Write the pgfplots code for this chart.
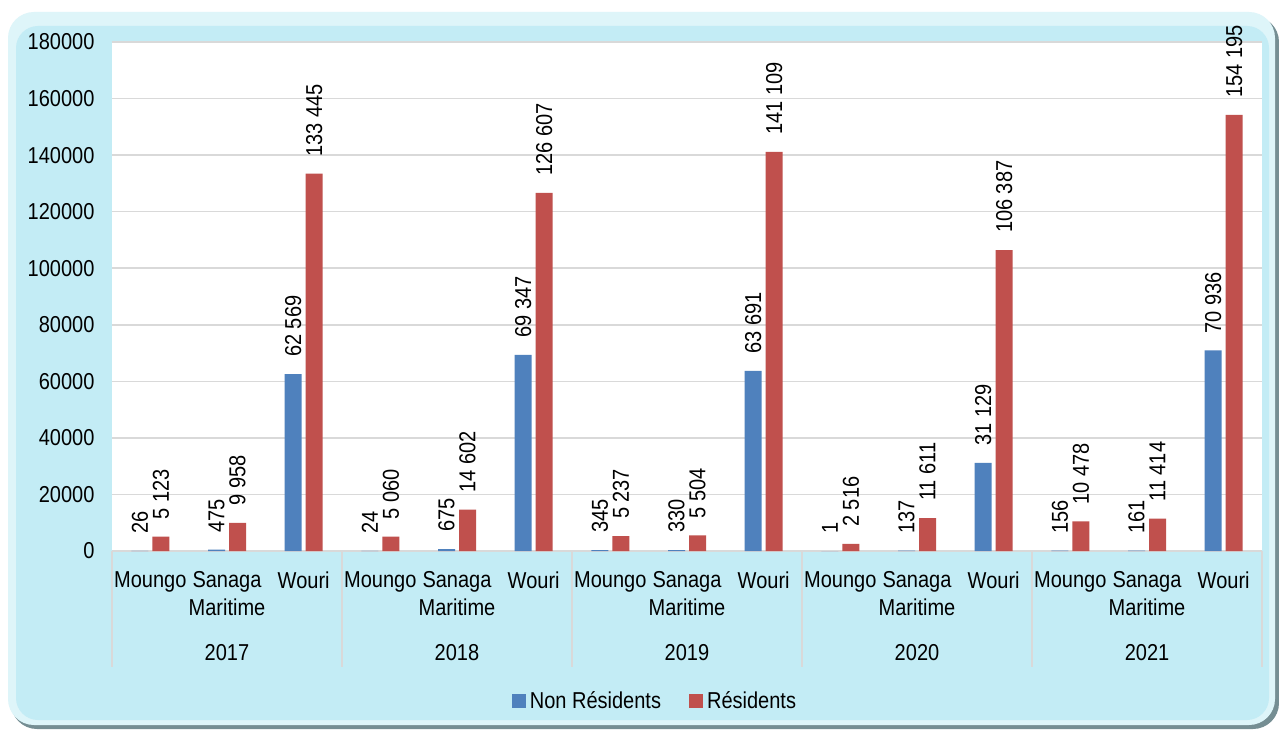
\documentclass[border=0pt]{standalone}
\usepackage{fontspec}
\setmainfont{Liberation Sans}[FakeStretch=0.87]
\usepackage{pgfplots}
\pgfplotsset{compat=1.18}

\definecolor{nres}{HTML}{4F81BD}
\definecolor{res}{HTML}{C0504D}
\definecolor{bgcyan}{HTML}{C3ECF5}
\definecolor{gridgray}{HTML}{D9D9D9}

\begin{document}
\begin{tikzpicture}
\useasboundingbox (0pt,0pt) rectangle (1279pt,729pt);
\fill[white] (0pt,0pt) rectangle (1279pt,729pt);
% bevelled frame
\fill[rounded corners=26pt, black!40!bgcyan] (11pt,0pt) rectangle (1279pt,713pt);
\fill[rounded corners=26pt, white!45!bgcyan] (8pt,4pt) rectangle (1275pt,717pt);
\fill[rounded corners=22pt, bgcyan] (16pt,9pt) rectangle (1269pt,703pt);

\begin{axis}[
  at={(112pt,178pt)}, anchor=south west,
  scale only axis, width=1150pt, height=509pt,
  font=\fontsize{23}{28}\selectfont,
  axis background/.style={fill=white},
  axis line style={draw=none},
  ybar=4pt, bar width=17pt,
  xmin=-0.5, xmax=14.5, ymin=0, ymax=180000,
  xtick={0,...,14},
  xticklabels={Moungo,{Sanaga\\Maritime},Wouri,Moungo,{Sanaga\\Maritime},Wouri,Moungo,{Sanaga\\Maritime},Wouri,Moungo,{Sanaga\\Maritime},Wouri,Moungo,{Sanaga\\Maritime},Wouri},
  xticklabel style={align=center, yshift=-17pt},
  ytick={0,20000,...,180000},
  yticklabel style={/pgf/number format/fixed, /pgf/number format/precision=0, /pgf/number format/1000 sep={}, /pgf/number format/assume math mode=true, xshift=-14pt},
  scaled y ticks=false,
  major tick length=0pt,
  ymajorgrids, grid style={gridgray, line width=1.5pt},
  clip=false,
  nodes near coords={\pgfmathprintnumber[fixed,precision=0,assume math mode=true,1000 sep={\ }]{\pgfplotspointmeta}},
  every node near coord/.append style={rotate=90, anchor=west, inner xsep=17pt, inner ysep=0pt, black, font=\fontsize{23}{28}\selectfont},
  legend style={at={(0.473,-0.2947)}, anchor=center, draw=none, fill=none,
    legend columns=-1, font=\fontsize{23}{28}\selectfont,
    /tikz/every even column/.append style={column sep=24pt},
    nodes={inner xsep=4pt}},
  legend image code/.code={\fill[#1] (0pt,-7pt) rectangle (14pt,7pt);},
]
\addplot[fill=nres, draw=none] coordinates {(0,26) (1,475) (2,62569) (3,24) (4,675) (5,69347) (6,345) (7,330) (8,63691) (9,1) (10,137) (11,31129) (12,156) (13,161) (14,70936)};
\addplot[fill=res, draw=none] coordinates {(0,5123) (1,9958) (2,133445) (3,5060) (4,14602) (5,126607) (6,5237) (7,5504) (8,141109) (9,2516) (10,11611) (11,106387) (12,10478) (13,11414) (14,154195)};
\legend{Non Résidents, Résidents}

% year separators below the axis
\draw[gridgray, line width=1.5pt] (axis cs:-0.5,0) -- ++(0pt,-116pt);
\draw[gridgray, line width=1.5pt] (axis cs:2.5,0) -- ++(0pt,-116pt);
\draw[gridgray, line width=1.5pt] (axis cs:5.5,0) -- ++(0pt,-116pt);
\draw[gridgray, line width=1.5pt] (axis cs:8.5,0) -- ++(0pt,-116pt);
\draw[gridgray, line width=1.5pt] (axis cs:11.5,0) -- ++(0pt,-116pt);
\draw[gridgray, line width=1.5pt] (axis cs:14.5,0) -- ++(0pt,-116pt);
% year labels
\node[anchor=base, yshift=-109pt] at (axis cs:1,0) {2017};
\node[anchor=base, yshift=-109pt] at (axis cs:4,0) {2018};
\node[anchor=base, yshift=-109pt] at (axis cs:7,0) {2019};
\node[anchor=base, yshift=-109pt] at (axis cs:10,0) {2020};
\node[anchor=base, yshift=-109pt] at (axis cs:13,0) {2021};
\end{axis}
\end{tikzpicture}
\end{document}
